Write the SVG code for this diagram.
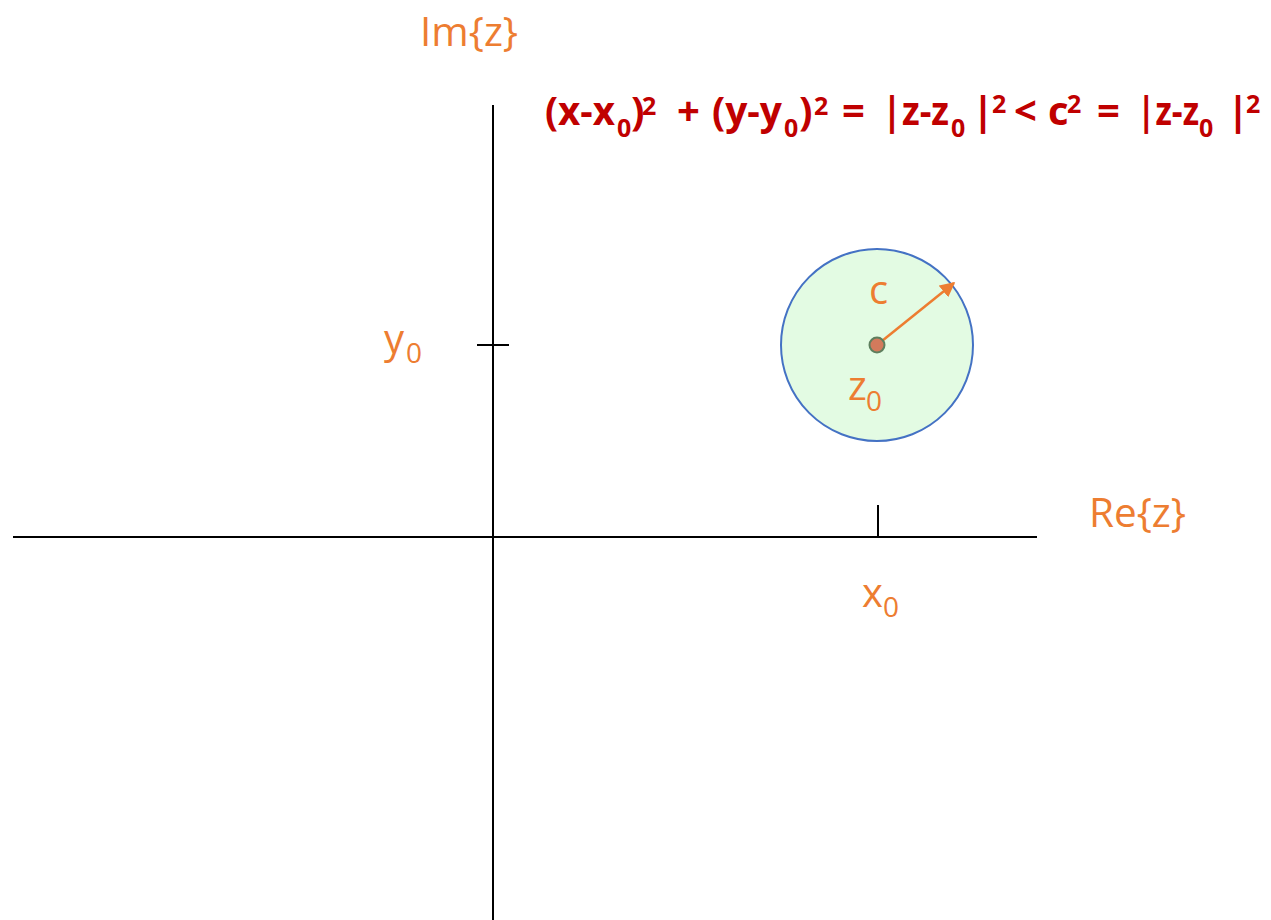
<svg xmlns="http://www.w3.org/2000/svg" width="1271" height="920" viewBox="0 0 1271 920">
<defs>
<style>
.axis{stroke:#000;stroke-width:2;fill:none}
.lbl{font-family:"Open Sans","Liberation Sans",sans-serif;fill:#ED7D31;font-size:40px}
.sub{font-size:28px}
.eq{font-family:"Open Sans","Liberation Sans",sans-serif;fill:#C00000;font-size:40px;font-weight:bold}
.es{font-size:25px}
</style>
<marker id="ah" viewBox="0 0 10 10" refX="9" refY="5" markerWidth="6" markerHeight="6" markerUnits="strokeWidth" orient="auto">
<path d="M0,0 L10,5 L0,10 z" fill="#ED7D31"/>
</marker>
</defs>
<rect width="1271" height="920" fill="#fff"/>
<g id="axes">
<line class="axis" x1="493" y1="105" x2="493" y2="920"/>
<line class="axis" x1="13" y1="537" x2="1037" y2="537"/>
<line class="axis" x1="477" y1="345" x2="509" y2="345"/>
<line class="axis" x1="878" y1="505" x2="878" y2="537"/>
</g>
<g id="disk">
<circle cx="877" cy="345" r="96" fill="#E3FBE3" stroke="#4472C4" stroke-width="2"/>
</g>
<g id="connectors">
<line x1="877" y1="345" x2="954" y2="283" stroke="#ED7D31" stroke-width="2.5" marker-end="url(#ah)"/>
</g>
<g id="center">
<circle cx="877" cy="345" r="7.5" fill="#D37A5C" stroke="#5E7F5E" stroke-width="2"/>
</g>
<g id="labels">
<text class="lbl" x="420" y="46" font-size="42" textLength="98" lengthAdjust="spacingAndGlyphs">Im{z}</text>
<text class="lbl" x="1089" y="527" textLength="97" lengthAdjust="spacingAndGlyphs">Re{z}</text>
<text class="lbl" x="862" y="607">x<tspan class="sub" x="883" y="617">0</tspan></text>
<text class="lbl" x="384" y="353">y<tspan class="sub" x="406" y="363">0</tspan></text>
<text class="lbl" x="869" y="304">c</text>
<text class="lbl" x="848" y="400">z<tspan class="sub" x="866" y="411">0</tspan></text>
</g>
<g id="formula">
<text class="eq" x="545" y="125"><tspan x="545" y="125" textLength="70" lengthAdjust="spacingAndGlyphs">(x-x</tspan><tspan class="es" x="617" y="137">0</tspan><tspan x="631" y="125">)</tspan><tspan class="es" x="642" y="115">2</tspan><tspan x="677" y="125">+</tspan><tspan x="712" y="125" textLength="70" lengthAdjust="spacingAndGlyphs">(y-y</tspan><tspan class="es" x="784" y="137">0</tspan><tspan x="799" y="125">)</tspan><tspan class="es" x="814" y="115">2</tspan><tspan x="842" y="125">=</tspan><tspan x="882" y="125" textLength="67" lengthAdjust="spacingAndGlyphs">|z-z</tspan><tspan class="es" x="951" y="137">0</tspan><tspan x="972" y="125">|</tspan><tspan class="es" x="992" y="113">2</tspan><tspan x="1014" y="125">&lt;</tspan><tspan x="1048" y="125">c</tspan><tspan class="es" x="1067" y="113">2</tspan><tspan x="1097" y="125">=</tspan><tspan x="1137" y="125" textLength="62" lengthAdjust="spacingAndGlyphs">|z-z</tspan><tspan class="es" x="1199" y="137">0</tspan><tspan x="1227" y="125">|</tspan><tspan class="es" x="1246" y="113">2</tspan></text>
</g>
</svg>
